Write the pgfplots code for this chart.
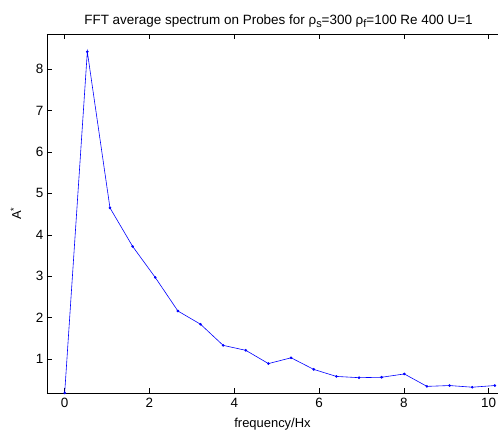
\documentclass[border=0pt]{standalone}
\usepackage{pgfplots}
\pgfplotsset{compat=1.18}
\usepackage{fontspec}
\setmainfont{Liberation Sans}

% MATLAB-style subscript: lowered, nearly full size
\newcommand\msub[1]{\raisebox{-0.5ex}{\fontsize{11}{11}\selectfont #1}}

\pgfplotstableread{
f A
0.000 0.18
0.534 8.42
1.068 4.65
1.602 3.72
2.136 2.97
2.670 2.16
3.204 1.84
3.738 1.33
4.272 1.21
4.806 0.89
5.340 1.03
5.874 0.75
6.408 0.58
6.942 0.55
7.476 0.56
8.010 0.64
8.544 0.34
9.078 0.36
9.612 0.32
10.146 0.36
}\spectrum

\begin{document}
\begin{tikzpicture}
\useasboundingbox (-47bp,-41bp) rectangle (451bp,393bp);
\begin{axis}[
  scale only axis,
  width=451bp, height=358.7bp,
  xmin=-0.417, xmax=10.22,
  ymin=0.18, ymax=8.84,
  axis y line*=left,
  xtick={0,2,...,10},
  ytick={1,...,8},
  tick align=inside,
  major tick length=5bp,
  axis line style={line width=0.6pt},
  tick style={line width=0.5pt, black},
  /pgf/number format/assume math mode=true,
  tick label style={font=\fontsize{13.5}{15}\selectfont},
  xticklabel style={yshift=-2bp},
  label style={font=\fontsize{13}{15}\selectfont},
  title style={font=\fontsize{13.5}{15}\selectfont, yshift=-3bp, xshift=6bp},
  title={FFT average spectrum on Probes for ρ\msub{s}=300 ρ\msub{f}=100 Re 400 U=1},
  xlabel={frequency/Hx},
  ylabel={A\textsuperscript{*}},
  xlabel style={yshift=-3bp},
  ylabel style={yshift=8bp},
]
\addplot[blue, line width=0.6pt, mark=*, mark size=1bp] table[x=f, y=A] {\spectrum};
\end{axis}
\end{tikzpicture}
\end{document}
